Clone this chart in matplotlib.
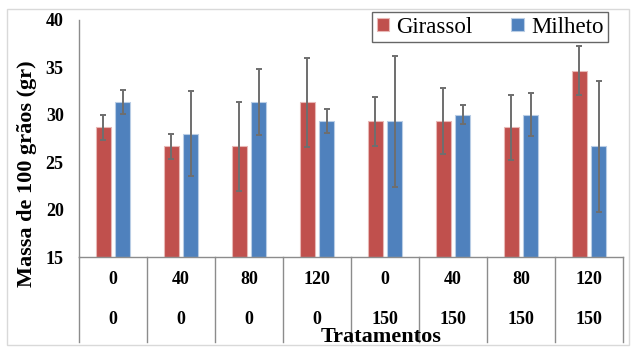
import numpy as np
import matplotlib
matplotlib.use("Agg")
import matplotlib.pyplot as plt
from matplotlib.patches import Rectangle

# valores
dose_n = ["0", "40", "80", "120", "0", "40", "80", "120"]
dose_p = ["0", "0", "0", "0", "150", "150", "150", "150"]
girassol = [28.67, 26.67, 26.67, 31.33, 29.33, 29.33, 28.67, 34.67]
girassol_err = [1.35, 1.3, 4.7, 4.7, 2.6, 3.5, 3.45, 2.6]
milheto = [31.33, 28.0, 31.33, 29.33, 29.33, 30.0, 30.0, 26.67]
milheto_err = [1.27, 4.5, 3.45, 1.3, 6.9, 1.0, 2.25, 6.9]

plt.rcParams["font.family"] = ["Liberation Serif", "DejaVu Serif"]

W, H = 632, 347
fig = plt.figure(figsize=(W / 100, H / 100), dpi=100)
ax = fig.add_axes([79 / W, 1 - 257 / H, (623 - 79) / W, (257 - 20) / H])

x = np.arange(len(girassol))
larg = 0.22
desl = 0.14
estilo_erro = dict(ecolor="#6e6e6e", elinewidth=1.4, capsize=2.3, capthick=1.4)

ax.bar(x - desl, np.array(girassol) - 15, larg, bottom=15, color="#C0504D",
       edgecolor="#E8B8B6", linewidth=0.8, label="Girassol",
       yerr=girassol_err, error_kw=estilo_erro)
ax.bar(x + desl, np.array(milheto) - 15, larg, bottom=15, color="#4F81BD",
       edgecolor="#B9CDE5", linewidth=0.8, label="Milheto",
       yerr=milheto_err, error_kw=estilo_erro)

ax.set_xlim(-0.5, len(x) - 0.5)
ax.set_ylim(15, 40)
ax.set_yticks(range(15, 41, 5))
ax.set_xticks([])
ax.tick_params(axis="y", length=0, pad=11, labelsize=13)
for t in ax.get_yticklabels():
    t.set_fontweight("bold")

for lado in ["top", "right"]:
    ax.spines[lado].set_visible(False)
ax.spines["left"].set_color("#8c8c8c")
ax.spines["bottom"].set_color("#8c8c8c")
ax.spines["left"].set_linewidth(1.0)
ax.spines["bottom"].set_linewidth(1.0)

# tabela de categorias abaixo do eixo
tr = ax.get_xaxis_transform()
fundo = (257 - 342) / 237
for i in range(len(x) + 1):
    ax.plot([i - 0.5, i - 0.5], [0, fundo], transform=tr, color="#8c8c8c",
            lw=1.0, clip_on=False)
for i in range(len(x)):
    ax.text(i, (257 - 280) / 237, dose_n[i], transform=tr, ha="center",
            va="center", fontsize=13, fontweight="bold")
    ax.text(i, (257 - 320) / 237, dose_p[i], transform=tr, ha="center",
            va="center", fontsize=13, fontweight="bold")

fig.text(27 / W, 1 - 174 / H, "Massa de 100 grãos (gr)", rotation=90,
         ha="center", va="center", fontsize=16, fontweight="bold")
fig.text(381 / W, 1 - 342 / H, "Tratamentos", ha="center", va="baseline",
         fontsize=16, fontweight="bold")

leg = ax.legend(loc="upper right", bbox_to_anchor=(608 / W, 1 - 12 / H),
                bbox_transform=fig.transFigure, ncol=2, fontsize=16.5,
                frameon=True, fancybox=False, borderaxespad=0,
                handlelength=0.55, handleheight=0.55, handletextpad=0.3,
                columnspacing=1.7, borderpad=0.2)
leg.get_frame().set_edgecolor("#404040")
leg.get_frame().set_linewidth(1.0)

# moldura externa
fig.patches.append(Rectangle((7 / W, 2 / H), 622 / W, 336 / H,
                             transform=fig.transFigure, fill=False,
                             edgecolor="#d9d9d9", lw=1.0))

fig.savefig("out.png", dpi=100)
